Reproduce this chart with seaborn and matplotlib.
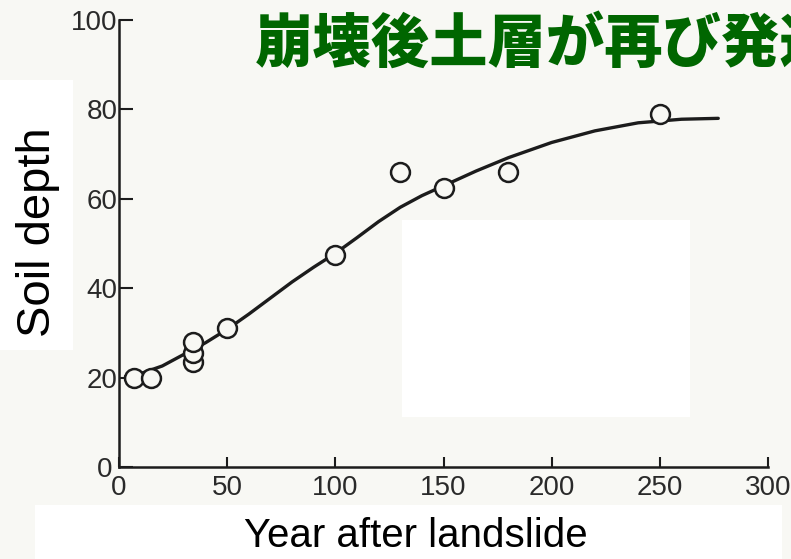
import matplotlib
matplotlib.use("Agg")
import matplotlib.pyplot as plt
from matplotlib.patches import Rectangle
from matplotlib.transforms import ScaledTranslation
import seaborn as sns
import pandas as pd

# Observed soil depth at each site (years since the slope failed)
years = [7, 15, 34, 34, 34, 50, 100, 130, 150, 180, 250]
depth = [20, 20, 23.5, 25.5, 28, 31, 47.5, 66, 62.5, 66, 79]

# Hand-drawn recovery curve through the observations
curve_years = [3, 10, 20, 30, 40, 50, 60, 70, 80, 90, 100, 110, 120, 130,
               140, 150, 165, 180, 200, 220, 240, 260, 277]
curve_depth = [20.3, 20.9, 22.6, 25.2, 27.8, 30.8, 34.2, 37.8, 41.4, 44.7,
               47.8, 51.3, 54.9, 58.1, 60.7, 62.9, 66.2, 69.2, 72.6, 75.2,
               77.0, 77.8, 78.0]

x_ticks = [0, 50, 100, 150, 200, 250, 300]
y_ticks = [0, 20, 40, 60, 80, 100]

title_text = "崩壊後土層が再び発達"
x_label = "Year after landslide"
y_label = "Soil depth"

paper = "#f8f8f4"
ink = "#1c1c1c"

sns.set_theme(style="ticks")
plt.rcParams["font.family"] = ["Liberation Sans", "DejaVu Sans"]

W, H = 791, 559
fig = plt.figure(figsize=(W / 100, H / 100), dpi=100, facecolor=paper)

# white paste-over areas behind the labels and in the plot body
for (x0, y0, x1, y1) in [(0, 80, 73, 350), (35, 505, 782, 559), (402, 220, 690, 417)]:
    fig.patches.append(Rectangle((x0 / W, 1 - y1 / H), (x1 - x0) / W, (y1 - y0) / H,
                                 transform=fig.transFigure, facecolor="white",
                                 edgecolor="none", zorder=-5))

ax = fig.add_axes([119 / W, 1 - 467 / H, (768 - 119) / W, (467 - 20) / H])
ax.set_facecolor("none")

curve_df = pd.DataFrame({"year": curve_years, "depth": curve_depth})
pts_df = pd.DataFrame({"year": years, "depth": depth})

sns.lineplot(data=curve_df, x="year", y="depth", ax=ax, color=ink,
             linewidth=2.4, zorder=2, sort=False)
sns.scatterplot(data=pts_df, x="year", y="depth", ax=ax, s=185,
                facecolor=paper, edgecolor=ink, linewidth=1.8, zorder=3,
                clip_on=False)

ax.set_xlim(0, 300)
ax.set_ylim(0, 100)
ax.set_xticks(x_ticks)
ax.set_yticks(y_ticks)
ax.set_xticklabels([str(v) for v in x_ticks])
ax.set_yticklabels([str(v) for v in y_ticks])

for side in ["top", "right"]:
    ax.spines[side].set_visible(False)
for side in ["left", "bottom"]:
    ax.spines[side].set_linewidth(1.8)
    ax.spines[side].set_color(ink)

tick_font = ["Liberation Sans Narrow", "Liberation Sans"]
ax.tick_params(axis="y", direction="in", length=10, width=1.5, color=ink,
               pad=1, labelsize=20, labelcolor="#2a2a2a")
ax.tick_params(axis="x", direction="in", length=7, width=1.5, color=ink,
               pad=6, labelsize=20, labelcolor="#2a2a2a")
for lab in ax.get_xticklabels() + ax.get_yticklabels():
    lab.set_family(tick_font)

# nudge the y-axis zero a little left so it clears the x-axis zero
zero_lab = ax.get_yticklabels()[0]
zero_lab.set_transform(zero_lab.get_transform()
                       + ScaledTranslation(-5 / 100, 0, fig.dpi_scale_trans))

ax.set_xlabel(x_label, fontsize=29, color="black", va="baseline")
ax.xaxis.set_label_coords((416 - 119) / (768 - 119), (467 - 547) / (467 - 20))
ax.set_ylabel(y_label, fontsize=34, color="black", va="center")
ax.yaxis.set_label_coords((38 - 119) / (768 - 119), (467 - 232) / (467 - 20))

fig.text(255 / W, 1 - 44 / H, title_text, ha="left", va="center",
         fontsize=42, fontweight="heavy", color="#006600",
         family=["Noto Sans CJK JP", "DejaVu Sans"])

fig.savefig("out.png", dpi=100, facecolor=paper)
